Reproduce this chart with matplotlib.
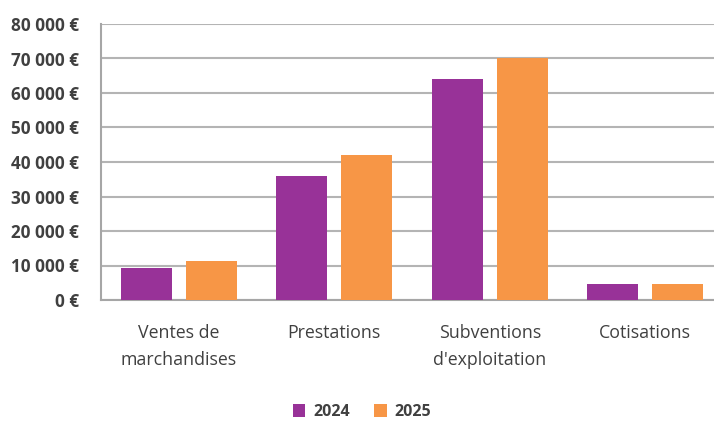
import matplotlib.pyplot as plt
import numpy as np
from matplotlib.ticker import FuncFormatter

# recettes par catégorie
categories = ["Ventes de\nmarchandises", "Prestations", "Subventions\nd'exploitation", "Cotisations"]
annees = ["2024", "2025"]
valeurs_2024 = [9300, 36000, 64000, 4600]
valeurs_2025 = [11300, 42000, 70000, 4600]
couleurs = ["#983298", "#F79646"]

plt.rcParams['font.family'] = ['Open Sans', 'DejaVu Sans']

fig = plt.figure(figsize=(7.14, 4.22), dpi=100)
ax = fig.add_axes([101 / 714, 122 / 422, 613 / 714, 276 / 422])

x = np.arange(len(categories))
largeur = 0.33
ax.bar(x - 0.209, valeurs_2024, largeur, color=couleurs[0], label=annees[0], zorder=3)
ax.bar(x + 0.209, valeurs_2025, largeur, color=couleurs[1], label=annees[1], zorder=3)

ax.set_ylim(0, 80000)
ax.set_yticks(range(0, 80001, 10000))
ax.yaxis.set_major_formatter(FuncFormatter(lambda v, p: f"{int(v):,} €".replace(",", " ")))
ax.set_xlim(-0.5, 3.5 - 9 / 155.5)
ax.set_xticks(x)
ax.set_xticklabels(categories, fontsize=12.8, color="#404040", linespacing=1.7)

for lab in ax.get_yticklabels():
    lab.set_fontweight("bold")
    lab.set_fontsize(12.3)
    lab.set_color("#404040")

ax.tick_params(axis="y", length=0, pad=16)
ax.tick_params(axis="x", length=0, pad=17)
ax.grid(axis="y", color="#b4b4b4", linewidth=1.5, zorder=0)
for side in ["top", "right"]:
    ax.spines[side].set_visible(False)
for side in ["left", "bottom"]:
    ax.spines[side].set_color("#a6a6a6")
    ax.spines[side].set_linewidth(1.5)

ax.legend(loc="center", bbox_to_anchor=(362 / 714, 10 / 422), bbox_transform=fig.transFigure,
          ncol=2, frameon=False, handlelength=0.8, handleheight=0.8, columnspacing=1.5,
          handletextpad=0.5, prop={"size": 11.5, "weight": "bold"}, labelcolor="#404040")

fig.savefig("out.png", dpi=100)
